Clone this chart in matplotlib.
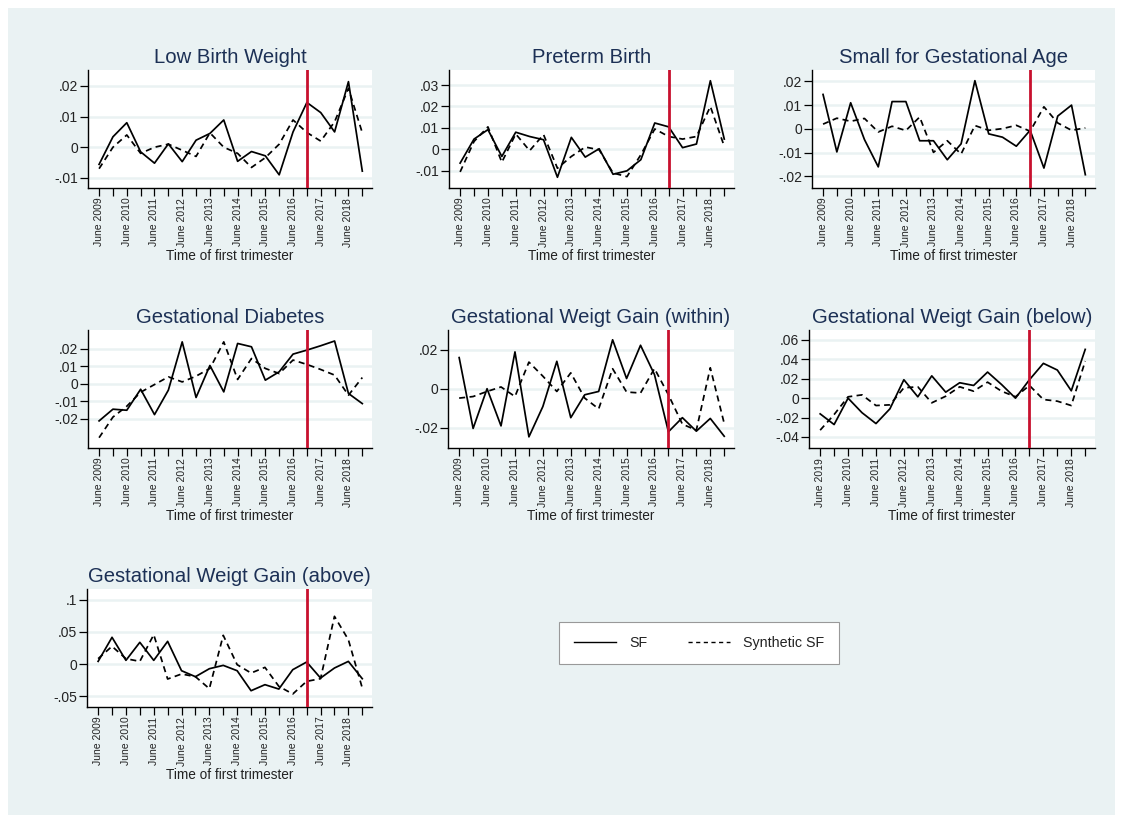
import numpy as np
import matplotlib
matplotlib.use("Agg")
import matplotlib.pyplot as plt
from matplotlib.lines import Line2D
from matplotlib.patches import Rectangle

plt.rcParams['font.family'] = ['Liberation Sans', 'DejaVu Sans']

# half-year periods, June 2009 .. Dec 2018
years = list(range(2009, 2019))
tick_labels = ['June %d' % y for y in years]
treat_idx = 15  # Dec 2016

lbw_sf = [-0.0056, 0.0034, 0.0080, -0.0015, -0.0052, 0.0011, -0.0047, 0.0023, 0.0045, 0.0089,
          -0.0046, -0.0014, -0.0028, -0.0090, 0.0050, 0.0146, 0.0113, 0.0050, 0.0214, -0.0078]
lbw_syn = [-0.0070, 0.0000, 0.0040, -0.0020, 0.0000, 0.0010, -0.0010, -0.0030, 0.0047, 0.0000,
           -0.0020, -0.0066, -0.0034, 0.0010, 0.0089, 0.0048, 0.0020, 0.0083, 0.0192, 0.0047]

ptb_sf = [-0.0064, 0.0048, 0.0092, -0.0033, 0.0080, 0.0060, 0.0045, -0.0130, 0.0056, -0.0036,
          0.0003, -0.0116, -0.0100, -0.0048, 0.0123, 0.0105, 0.0008, 0.0025, 0.0320, 0.0048]
ptb_syn = [-0.0105, 0.0037, 0.0105, -0.0060, 0.0072, -0.0006, 0.0069, -0.0088, -0.0033, 0.0011,
           -0.0002, -0.0110, -0.0127, -0.0025, 0.0095, 0.0060, 0.0048, 0.0060, 0.0200, 0.0014]

sga_sf = [0.0145, -0.0097, 0.0110, -0.0045, -0.0160, 0.0115, 0.0115, -0.0050, -0.0050, -0.0130,
          -0.0063, 0.0203, -0.0021, -0.0035, -0.0073, -0.0006, -0.0165, 0.0054, 0.0100, -0.0193]
sga_syn = [0.0020, 0.0045, 0.0032, 0.0044, -0.0013, 0.0011, -0.0007, 0.0050, -0.0099, -0.0050,
           -0.0106, 0.0014, -0.0006, 0.0001, 0.0015, -0.0010, 0.0093, 0.0025, -0.0006, 0.0004]

gd_sf = [-0.0212, -0.0145, -0.0151, -0.0031, -0.0176, -0.0036, 0.0240, -0.0078, 0.0105, -0.0046,
         0.0231, 0.0212, 0.0021, 0.0069, 0.0170, 0.0193, 0.0218, 0.0245, -0.0055, -0.0113]
gd_syn = [-0.0308, -0.0190, -0.0128, -0.0048, -0.0004, 0.0040, 0.0011, 0.0044, 0.0088, 0.0240,
          0.0025, 0.0145, 0.0088, 0.0059, 0.0136, 0.0111, 0.0082, 0.0050, -0.0065, 0.0036]

gwg_in_sf = [0.0159, -0.0203, 0.0000, -0.0190, 0.0188, -0.0246, -0.0091, 0.0140, -0.0148, -0.0031,
             -0.0014, 0.0250, 0.0052, 0.0222, 0.0072, -0.0220, -0.0148, -0.0217, -0.0152, -0.0243]
gwg_in_syn = [-0.0048, -0.0040, -0.0014, 0.0009, -0.0040, 0.0136, 0.0064, -0.0014, 0.0081, -0.0048,
              -0.0103, 0.0102, -0.0017, -0.0022, 0.0103, -0.0031, -0.0181, -0.0212, 0.0107, -0.0178]

gwg_lo_sf = [-0.0162, -0.0272, 0.0000, -0.0150, -0.0262, -0.0110, 0.0190, 0.0014, 0.0230, 0.0062,
             0.0159, 0.0131, 0.0269, 0.0141, 0.0000, 0.0190, 0.0359, 0.0290, 0.0076, 0.0503]
gwg_lo_syn = [-0.0330, -0.0169, 0.0014, 0.0034, -0.0076, -0.0069, 0.0107, 0.0117, -0.0048, 0.0020,
              0.0117, 0.0072, 0.0165, 0.0072, 0.0014, 0.0131, -0.0014, -0.0031, -0.0076, 0.0383]

gwg_hi_sf = [0.0041, 0.0415, 0.0057, 0.0337, 0.0057, 0.0352, -0.0104, -0.0197, -0.0073, -0.0021,
             -0.0104, -0.0415, -0.0321, -0.0389, -0.0088, 0.0031, -0.0218, -0.0062, 0.0041, -0.0228]
gwg_hi_syn = [0.0083, 0.0275, 0.0083, 0.0041, 0.0456, -0.0233, -0.0155, -0.0197, -0.0383, 0.0446,
              -0.0010, -0.0140, -0.0052, -0.0347, -0.0466, -0.0269, -0.0228, 0.0741, 0.0378, -0.0373]

panels = [
    ("Low Birth Weight", lbw_sf, lbw_syn, (88, 70, 372, 188), (-0.0133, 0.0252),
     [-0.01, 0, 0.01, 0.02], tick_labels),
    ("Preterm Birth", ptb_sf, ptb_syn, (449, 70, 734, 188), (-0.018, 0.037),
     [-0.01, 0, 0.01, 0.02, 0.03], tick_labels),
    ("Small for Gestational Age", sga_sf, sga_syn, (812, 70, 1095, 188), (-0.0249, 0.0248),
     [-0.02, -0.01, 0, 0.01, 0.02], tick_labels),
    ("Gestational Diabetes", gd_sf, gd_syn, (88, 330, 372, 448), (-0.0367, 0.0308),
     [-0.02, -0.01, 0, 0.01, 0.02], tick_labels),
    ("Gestational Weigt Gain (within)", gwg_in_sf, gwg_in_syn, (448, 330, 734, 448), (-0.0303, 0.030),
     [-0.02, 0, 0.02], tick_labels),
    ("Gestational Weigt Gain (below)", gwg_lo_sf, gwg_lo_syn, (809, 330, 1095, 448), (-0.0514, 0.0703),
     [-0.04, -0.02, 0, 0.02, 0.04, 0.06], ['June 2019'] + tick_labels[1:]),
    ("Gestational Weigt Gain (above)", gwg_hi_sf, gwg_hi_syn, (87, 589, 372, 707), (-0.0668, 0.1166),
     [-0.05, 0, 0.05, 0.1], tick_labels),
]

W, H = 1123, 822
bg = '#eaf2f3'
title_col = '#1c3055'
text_col = '#222222'


def stata_fmt(v):
    if abs(v) < 1e-12:
        return '0'
    s = ('%g' % v)
    return s.replace('0.', '.')


fig = plt.figure(figsize=(W / 100, H / 100), dpi=100)
fig.patch.set_facecolor('white')
fig.patches.append(Rectangle((8 / W, 1 - 815 / H), (1115 - 8) / W, (815 - 8) / H,
                             transform=fig.transFigure, facecolor=bg, edgecolor='none', zorder=-10))

for title, sf, syn, (x0, y0, x1, y1), ylim, yticks, xlabs in panels:
    ax = fig.add_axes([x0 / W, 1 - y1 / H, (x1 - x0) / W, (y1 - y0) / H])
    ax.set_facecolor('white')
    x = np.arange(len(sf))
    for t in yticks:
        ax.axhline(t, color=bg, lw=1.8, zorder=0)
    ax.plot(x, sf, color='black', lw=1.25, zorder=3)
    ax.plot(x, syn, color='black', lw=1.25, ls=(0, (3.5, 2.5)), zorder=3)
    ax.axvline(treat_idx, color='#c8102e', lw=2, zorder=4)
    ax.set_xlim(-0.8, 19.7)
    ax.set_ylim(*ylim)
    ax.set_yticks(yticks)
    ax.set_yticklabels([stata_fmt(v) for v in yticks])
    ax.set_xticks(np.arange(20))
    ax.set_xticklabels([xlabs[i // 2] if i % 2 == 0 else '' for i in range(20)], rotation=90)
    ax.tick_params(axis='both', direction='out', length=5.5, width=0.9, colors='black',
                   labelcolor=text_col, pad=1.5)
    ax.tick_params(axis='y', labelsize=10)
    ax.tick_params(axis='x', labelsize=7.5)
    for s in ['top', 'right']:
        ax.spines[s].set_visible(False)
    for s in ['left', 'bottom']:
        ax.spines[s].set_linewidth(1.0)
    ax.set_title(title, fontsize=14.6, color=title_col, pad=5)
    ax.set_xlabel('Time of first trimester', fontsize=9.8, color=text_col, labelpad=2)

handles = [Line2D([], [], color='black', lw=1.0),
           Line2D([], [], color='black', lw=1.0, ls=(0, (3, 2.5)))]
leg = fig.legend(handles, ['SF', 'Synthetic SF'], loc='center', ncol=2,
                 bbox_to_anchor=(699 / W, 1 - 643 / H), fontsize=10.3, frameon=True,
                 fancybox=False, edgecolor='#999999', framealpha=1, handlelength=3.0,
                 columnspacing=2.8, borderpad=1.0, handletextpad=0.9)
leg.get_frame().set_linewidth(0.8)
for t in leg.get_texts():
    t.set_color(text_col)

fig.savefig('out.png', dpi=100)
